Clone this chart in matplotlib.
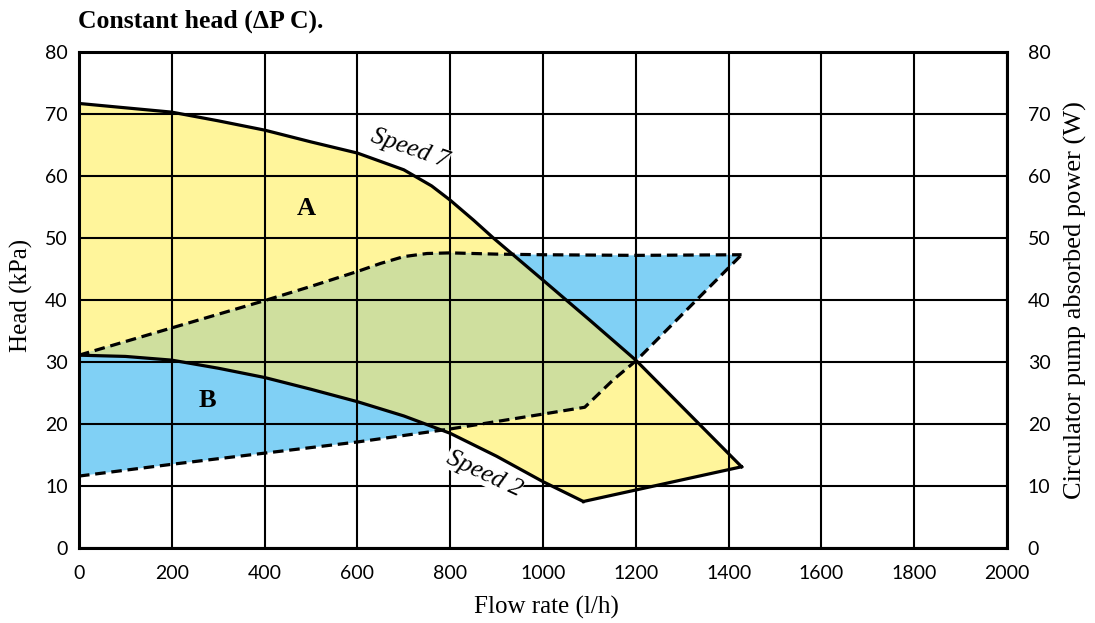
import matplotlib
matplotlib.use("Agg")
import matplotlib.pyplot as plt
from matplotlib.patches import Polygon

# ---- data ----
speed7_x = [0, 100, 200, 300, 400, 500, 600, 700, 760, 800, 850, 893, 1000, 1100, 1200, 1428]
speed7_y = [71.7, 71.0, 70.3, 68.9, 67.4, 65.5, 63.7, 61.0, 58.4, 56.1, 52.9, 50.0, 43.2, 36.8, 30.3, 13.1]

speed2_x = [0, 100, 200, 300, 400, 500, 600, 700, 800, 900, 1000, 1087]
speed2_y = [31.1, 30.9, 30.3, 29.0, 27.5, 25.6, 23.6, 21.3, 18.5, 14.8, 10.7, 7.5]

# closing segment between the two speed curves (max flow edge)
edge_x = [1087, 1428]
edge_y = [7.5, 13.1]

power_max_x = [0, 100, 200, 300, 400, 500, 600, 650, 700, 750, 800, 900, 1000, 1200, 1428]
power_max_y = [31.1, 33.3, 35.5, 37.7, 39.9, 42.2, 44.6, 45.9, 47.0, 47.5, 47.6, 47.4, 47.3, 47.2, 47.3]

power_min_x = [0, 200, 400, 600, 800, 1000, 1090, 1151, 1202, 1428]
power_min_y = [11.6, 13.5, 15.3, 17.1, 19.2, 21.6, 22.7, 27.1, 30.3, 47.3]

x_ticks = [0, 200, 400, 600, 800, 1000, 1200, 1400, 1600, 1800, 2000]
y_ticks = [0, 10, 20, 30, 40, 50, 60, 70, 80]

YELLOW = "#fff59b"
BLUE = "#80d0f5"
GREEN = "#cfdf9e"

fig = plt.figure(figsize=(10.95, 6.23), dpi=100)
ax = fig.add_axes([79 / 1095, 1 - 548 / 623, 928 / 1095, 496 / 623])
ax.set_xlim(0, 2000)
ax.set_ylim(0, 80)

# region A (yellow)
poly_a = list(zip(speed7_x, speed7_y)) + list(zip(edge_x[::-1], edge_y[::-1])) + \
    list(zip(speed2_x[::-1], speed2_y[::-1]))
patch_a = Polygon(poly_a, closed=True, facecolor=YELLOW, edgecolor="none", zorder=0.5)
ax.add_patch(patch_a)

# region B (blue)
poly_b = list(zip(power_max_x, power_max_y)) + list(zip(power_min_x[::-1], power_min_y[::-1]))
patch_b = Polygon(poly_b, closed=True, facecolor=BLUE, edgecolor="none", zorder=0.6)
ax.add_patch(patch_b)

# overlap (green): region B clipped to region A
patch_g = Polygon(poly_b, closed=True, facecolor=GREEN, edgecolor="none", zorder=0.7)
ax.add_patch(patch_g)
patch_g.set_clip_path(patch_a)

# grid
ax.set_xticks(x_ticks)
ax.set_yticks(y_ticks)
ax.grid(True, color="black", linewidth=1.5, zorder=1)
ax.set_axisbelow(False)
for gl in ax.get_xgridlines() + ax.get_ygridlines():
    gl.set_zorder(1)

# curves
lw = 2.3
ax.plot(speed7_x, speed7_y, color="black", lw=lw, zorder=3, solid_joinstyle="round")
ax.plot(speed2_x, speed2_y, color="black", lw=lw, zorder=3, solid_joinstyle="round")
ax.plot(edge_x, edge_y, color="black", lw=lw, zorder=3)
ax.plot(power_max_x, power_max_y, color="black", lw=lw, ls=(0, (3.3, 1.8)), zorder=3)
ax.plot(power_min_x, power_min_y, color="black", lw=lw, ls=(0, (3.3, 1.8)), zorder=3)

# labels on the chart
ax.text(713, 64.4, "Speed 7", rotation=-19, fontsize=18.5, family="Liberation Serif",
        style="italic", ha="center", va="center", zorder=4,
        bbox=dict(facecolor="white", edgecolor="none", pad=0.3))
ax.text(873, 12.0, "Speed 2", rotation=-25, fontsize=18.5, family="Liberation Serif",
        style="italic", ha="center", va="center", zorder=4,
        bbox=dict(facecolor="white", edgecolor="none", pad=0.3))
ax.text(490, 54.8, "A", fontsize=19, family="Liberation Serif", weight="bold",
        ha="center", va="center", zorder=4)
ax.text(277, 23.8, "B", fontsize=19, family="Liberation Serif", weight="bold",
        ha="center", va="center", zorder=4)

# frame
for sp in ax.spines.values():
    sp.set_linewidth(2.2)
    sp.set_zorder(5)

# ticks
ax.tick_params(axis="both", length=0, labelsize=14)
ax.tick_params(axis="x", pad=12)
ax.tick_params(axis="y", pad=8)
for lab in ax.get_xticklabels() + ax.get_yticklabels():
    lab.set_family("Lato")

ax2 = ax.twinx()
ax2.set_ylim(0, 80)
ax2.set_yticks(y_ticks)
ax2.tick_params(axis="y", length=0, labelsize=14, pad=15)
for lab in ax2.get_yticklabels():
    lab.set_family("Lato")
for sp in ax2.spines.values():
    sp.set_visible(False)

# axis labels
ax.set_xlabel("Flow rate (l/h)", fontsize=18, family="Liberation Serif", va="center")
ax.xaxis.set_label_coords(0.504, -0.119)
ax.set_ylabel("Head (kPa)", fontsize=18, family="Liberation Serif", va="center")
ax.yaxis.set_label_coords(-0.062, 0.51)
ax2.set_ylabel("Circulator pump absorbed power (W)", fontsize=19, family="Liberation Serif",
               va="center")
ax2.yaxis.set_label_coords(1.074, 0.5)

fig.text(78 / 1095, 1 - 21 / 623, "Constant head (\u0394P C).", fontsize=18.5,
         family="Liberation Serif", weight="bold", ha="left", va="center")

fig.savefig("out.png", dpi=100)
